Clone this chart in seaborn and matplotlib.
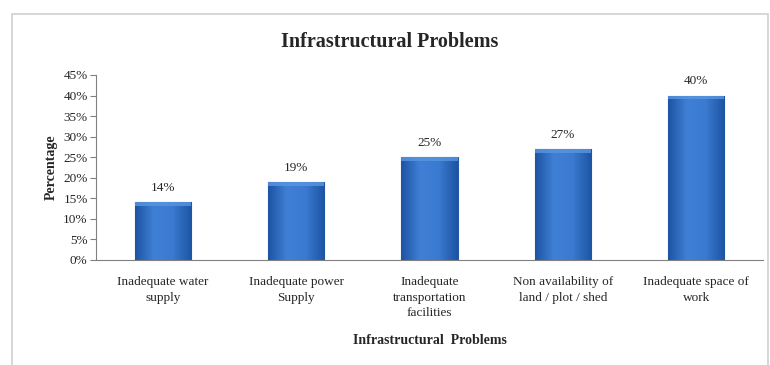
import matplotlib
matplotlib.use("Agg")
import matplotlib.pyplot as plt
import seaborn as sns
import pandas as pd
import numpy as np
from matplotlib.patches import Rectangle
from matplotlib.colors import LinearSegmentedColormap
from matplotlib.ticker import PercentFormatter

categories = ["Inadequate water\nsupply", "Inadequate power\nSupply",
              "Inadequate\ntransportation\nfacilities",
              "Non availability of\nland / plot / shed",
              "Inadequate space of\nwork"]
values = [14, 19, 25, 27, 40]
yticks = [0, 5, 10, 15, 20, 25, 30, 35, 40, 45]

sns.set_style("white")
plt.rcParams['font.family'] = ['Liberation Serif', 'DejaVu Serif']

W, H = 770, 365
fig = plt.figure(figsize=(W / 100, H / 100), dpi=100)
fig.patches.append(Rectangle((12 / W, -0.01), (768 - 12) / W, 1.01 - 14 / H,
                             transform=fig.transFigure, fill=False,
                             edgecolor="#d0d0d0", linewidth=1.2))

ax = fig.add_axes([96 / W, 1 - 260 / H, (763 - 96) / W, (260 - 75) / H])
df = pd.DataFrame({"cat": categories, "val": values})
sns.barplot(data=df, x="cat", y="val", ax=ax, color="#2f6cc4",
            width=0.42, edgecolor="#2459a8", linewidth=0.8, saturation=1)

# gradient shading inside each bar
cmap = LinearSegmentedColormap.from_list("bar", ["#1d54a3", "#3f80d6", "#3a7ad0", "#1d54a3"])
grad = np.linspace(0, 1, 64).reshape(1, -1)
for p in ax.patches:
    x0, y0 = p.get_x(), p.get_y()
    w, h = p.get_width(), p.get_height()
    im = ax.imshow(grad, cmap=cmap, extent=[x0, x0 + w, y0, y0 + h],
                   aspect="auto", zorder=p.get_zorder() + 0.1, interpolation="bilinear")
    im.set_clip_path(p)
    cap = Rectangle((x0, y0 + h - 0.9), w, 0.9, facecolor="#5a96e0", edgecolor="none",
                    zorder=p.get_zorder() + 0.2, alpha=0.8)
    ax.add_patch(cap)
ax.set_ylim(0, 45)
ax.set_xlim(-0.5, len(values) - 0.5)
ax.set_yticks(yticks)
ax.yaxis.set_major_formatter(PercentFormatter(decimals=0))
for s in ["top", "right"]:
    ax.spines[s].set_visible(False)
ax.spines["left"].set_color("#808080")
ax.spines["bottom"].set_color("#808080")
ax.tick_params(axis="y", left=True, length=4, color="#808080", labelsize=9.5, pad=2)
ax.tick_params(axis="x", bottom=False, labelsize=9.5, pad=8)
for lab in ax.get_xticklabels():
    lab.set_linespacing(1.4)

for i, v in enumerate(values):
    ax.annotate(f"{v}%", (i, v), xytext=(0, 6), textcoords="offset points",
                ha="center", va="bottom", fontsize=9.5)

ax.set_ylabel("Percentage", fontsize=10, fontweight="bold", labelpad=4)
ax.set_xlabel("")
fig.text(430 / W, 1 - 341 / H, "Infrastructural  Problems", ha="center", va="center",
         fontsize=10, fontweight="bold")
fig.text(390 / W, 1 - 42 / H, "Infrastructural Problems", ha="center", va="center",
         fontsize=14.5, fontweight="bold")

fig.savefig("out.png", dpi=100)
